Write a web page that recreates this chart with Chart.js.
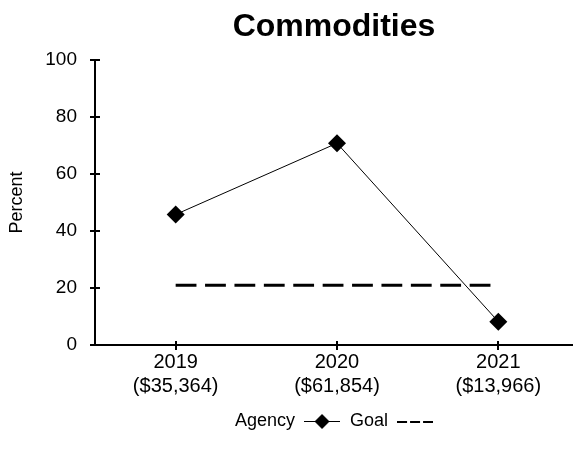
<!DOCTYPE html>
<html><head><meta charset="utf-8">
<script src="https://cdn.jsdelivr.net/npm/chart.js@4/dist/chart.umd.min.js"></script>
<style>html,body{margin:0;padding:0;background:#fff}#wrap{width:573px;height:459px}</style>
</head><body><div id="wrap"><canvas id="c" width="573" height="459"></canvas></div>
<script>
const categories = ['2019', '2020', '2021'];
const amounts = ['($35,364)', '($61,854)', '($13,966)'];
const agencyValues = [45.8, 70.8, 8.2];
const goalValues = [21, 21, 21];
const yTicks = [0, 20, 40, 60, 80, 100];
const seriesNames = ['Agency', 'Goal'];

const FONT = "'Liberation Sans', Arial, Helvetica, sans-serif";

function makeAgencyIcon() {
  const c = document.createElement('canvas');
  c.width = 36; c.height = 18;
  const g = c.getContext('2d');
  g.strokeStyle = '#000'; g.lineWidth = 1;
  g.beginPath(); g.moveTo(0, 9.5); g.lineTo(36, 9.5); g.stroke();
  g.fillStyle = '#000';
  g.beginPath(); g.moveTo(18, 2); g.lineTo(25.5, 9.5); g.lineTo(18, 17); g.lineTo(10.5, 9.5); g.closePath(); g.fill();
  return c;
}
function makeGoalIcon() {
  const c = document.createElement('canvas');
  c.width = 36; c.height = 18;
  const g = c.getContext('2d');
  g.fillStyle = '#000';
  for (let i = 0; i < 3; i++) g.fillRect(i * 13, 9, 10, 2);
  return c;
}
const icons = [makeAgencyIcon(), makeGoalIcon()];

const innerTicks = {
  id: 'innerTicks',
  afterDraw(chart) {
    const ctx = chart.ctx;
    const xs = chart.scales.x, ys = chart.scales.y;
    const area = chart.chartArea;
    ctx.save();
    ctx.strokeStyle = '#000';
    ctx.lineWidth = 2;
    ctx.beginPath();
    ys.ticks.forEach(t => {
      const p = Math.round(ys.getPixelForValue(t.value));
      ctx.moveTo(area.left, p); ctx.lineTo(area.left + 5, p);
    });
    xs.ticks.forEach(t => {
      const p = Math.round(xs.getPixelForValue(t.value));
      ctx.moveTo(p, area.bottom); ctx.lineTo(p, area.bottom - 4);
    });
    ctx.stroke();
    ctx.restore();
  }
};

new Chart(document.getElementById('c'), {
  type: 'line',
  data: {
    datasets: [
      {
        label: seriesNames[0],
        data: categories.map((c, i) => ({ x: i, y: agencyValues[i] })),
        borderColor: '#000',
        borderWidth: 1,
        pointStyle: 'rectRot',
        pointRadius: 9,
        pointBackgroundColor: '#000',
        pointBorderColor: '#000',
        pointBorderWidth: 0,
        tension: 0,
        fill: false,
        clip: false
      },
      {
        label: seriesNames[1],
        data: categories.map((c, i) => ({ x: i, y: goalValues[i] })),
        borderColor: '#000',
        borderWidth: 3,
        borderDash: [20.8, 8.6],
        pointRadius: 0,
        tension: 0,
        fill: false
      }
    ]
  },
  options: {
    responsive: false,
    animation: false,
    layout: { autoPadding: false, padding: { left: 0, right: 0, top: 8, bottom: 19 } },
    plugins: {
      tooltip: { enabled: false },
      title: {
        display: true,
        text: 'Commodities',
        fullSize: false,
        color: '#000',
        font: { family: FONT, size: 32, weight: 'bold', lineHeight: 1.2 },
        padding: { top: 0, bottom: 13.6 }
      },
      legend: {
        display: true,
        position: 'bottom',
        fullSize: false,
        rtl: true,
        reverse: true,
        labels: {
          color: '#000',
          font: { family: FONT, size: 18 },
          usePointStyle: true,
          pointStyleWidth: 36,
          padding: 10,
          generateLabels: () => seriesNames.map((n, i) => ({
            text: n, pointStyle: icons[i], datasetIndex: i, hidden: false,
            fillStyle: 'transparent', strokeStyle: 'transparent', lineWidth: 0, fontColor: '#000'
          }))
        }
      }
    },
    scales: {
      x: {
        type: 'linear',
        min: -0.5,
        max: 2.463,
        afterBuildTicks: s => { s.ticks = categories.map((c, i) => ({ value: i })); },
        afterFit: s => { s.height = 57; s.paddingRight = 0; s.paddingLeft = 0; },
        border: { color: '#000', width: 2 },
        grid: { drawOnChartArea: false, color: '#000', lineWidth: 2, tickLength: 5 },
        ticks: {
          color: '#000',
          font: { family: FONT, size: 20 },
          padding: 0,
          maxRotation: 0,
          callback: v => [categories[v], amounts[v]]
        }
      },
      y: {
        min: 0,
        max: 100,
        afterBuildTicks: s => { s.ticks = yTicks.map(v => ({ value: v })); },
        afterFit: s => { s.width = 95; s.paddingTop = 0; s.paddingBottom = 0; },
        border: { color: '#000', width: 2 },
        grid: { drawOnChartArea: false, color: '#000', lineWidth: 2, tickLength: 5 },
        ticks: {
          color: '#000',
          font: { family: FONT, size: 19 },
          padding: 13
        },
        title: {
          display: true,
          text: 'Percent',
          color: '#000',
          font: { family: FONT, size: 18 },
          padding: { top: 6, bottom: 0 }
        }
      }
    }
  },
  plugins: [innerTicks]
});
</script>
</body></html>
